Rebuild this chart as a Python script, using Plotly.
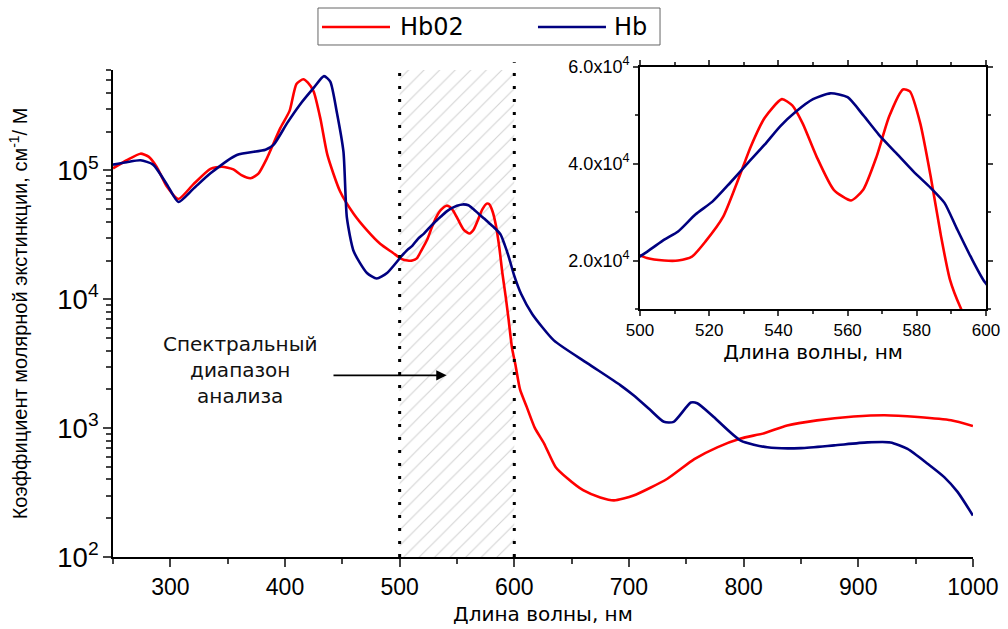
import plotly.graph_objects as go

# ---------------- data ----------------
hbo2_wl = [250, 262, 274, 281, 288, 297, 307, 320, 335, 345, 355, 362, 370, 377, 384, 396, 404, 410,
           416, 420, 425, 431, 437, 448, 460, 472, 483, 494, 502, 507, 511, 515, 519, 524, 528, 532,
           536, 541, 544, 547, 551, 556, 561, 564.5, 568.4, 572, 576, 578, 581, 584, 587, 589.6,
           592.5, 595, 598, 601, 605, 611, 618, 626, 636, 646, 660, 675, 687, 704, 733.5, 757, 777,
           797.5, 818, 838, 864, 896, 923, 952, 981, 1000]
hbo2_val = [1.04e5, 1.2e5, 1.35e5, 1.28e5, 1.07e5, 7.5e4, 6.0e4, 7.8e4, 1.03e5, 1.07e5, 1.02e5, 9.2e4,
            8.7e4, 9.5e4, 1.23e5, 2.14e5, 2.9e5, 4.7e5, 5.1e5, 4.8e5, 4.1e5, 2.5e5, 1.32e5, 6.9e4,
            4.6e4, 3.4e4, 2.7e4, 2.3e4, 2.05e4, 2.0e4, 2.0e4, 2.08e4, 2.4e4, 2.9e4, 3.6e4, 4.35e4,
            4.94e4, 5.33e4, 5.2e4, 4.83e4, 4.15e4, 3.46e4, 3.24e4, 3.46e4, 4.15e4, 4.97e4, 5.53e4,
            5.49e4, 4.83e4, 3.74e4, 2.5e4, 1.6e4, 1.05e4, 7.0e3, 4.2e3, 3.1e3, 2.0e3, 1.45e3, 1.0e3,
            7.6e2, 5.0e2, 4.1e2, 3.3e2, 2.9e2, 2.75e2, 3.0e2, 4.05e2, 5.75e2, 7.1e2, 8.3e2, 9.15e2,
            1.05e3, 1.15e3, 1.23e3, 1.26e3, 1.22e3, 1.15e3, 1.04e3]

hb_wl = [250, 262, 274, 285, 297, 307, 320, 335, 358, 383, 390, 402, 413, 425, 434, 439.5, 445, 451,
         454, 460, 471.5, 480, 489, 502, 507, 511, 516, 521, 526, 531, 536, 540.5, 545, 550, 555, 560,
         564.5, 569, 574, 579, 584, 588, 591.5, 595.5, 599.7, 606, 615.6, 634.5, 663.6, 692.7, 704,
         718, 730.5, 739, 754, 759.6, 774, 797.5, 820.7, 850, 879, 908, 928, 943, 960.5, 975, 986.6,
         1000]
hb_val = [1.11e5, 1.16e5, 1.2e5, 1.11e5, 7.8e4, 5.7e4, 7.2e4, 9.5e4, 1.32e5, 1.45e5, 1.58e5, 2.34e5,
          3.24e5, 4.37e5, 5.4e5, 4.9e5, 2.9e5, 1.4e5, 4.3e4, 2.35e4, 1.6e4, 1.45e4, 1.6e4, 2.18e4,
          2.43e4, 2.6e4, 2.95e4, 3.22e4, 3.6e4, 4.0e4, 4.39e4, 4.77e4, 5.07e4, 5.33e4, 5.45e4,
          5.37e4, 5.0e4, 4.6e4, 4.22e4, 3.84e4, 3.5e4, 3.19e4, 2.67e4, 2.09e4, 1.55e4, 1.1e4, 7.7e3,
          4.8e3, 3.2e3, 2.15e3, 1.8e3, 1.4e3, 1.12e3, 1.12e3, 1.58e3, 1.56e3, 1.22e3, 8.0e2, 7.1e2,
          7.0e2, 7.35e2, 7.75e2, 7.75e2, 6.9e2, 5.3e2, 4.17e2, 3.2e2, 2.1e2]

series_names = ["Hb02", "Hb"]
series_colors = ["#ff0000", "#000080"]
spectral_range = [500, 600]
arrow_from_to = [441, 541]
main_x_ticks = [300, 400, 500, 600, 700, 800, 900, 1000]
inset_y_ticks = [2e4, 4e4, 6e4]
inset_y_ticktext = ["2.0x10<sup>4</sup>", "4.0x10<sup>4</sup>", "6.0x10<sup>4</sup>"]
inset_x_ticks = [500, 520, 540, 560, 580, 600]

Y_LOG_MIN, Y_LOG_MAX = 2, 5.78

fig = go.Figure()

# hatched spectral range
y_top = 10 ** Y_LOG_MAX
fig.add_trace(go.Scatter(
    x=[spectral_range[0], spectral_range[1], spectral_range[1], spectral_range[0], spectral_range[0]],
    y=[10 ** Y_LOG_MIN, 10 ** Y_LOG_MIN, y_top, y_top, 10 ** Y_LOG_MIN],
    mode="lines", line=dict(width=0), fill="toself", fillcolor="rgba(0,0,0,0)",
    fillpattern=dict(shape="/", fgcolor="#a8a8a8", bgcolor="rgba(0,0,0,0)", size=11, solidity=0.1),
    showlegend=False, hoverinfo="skip"))

for wl, val, name, col in [(hbo2_wl, hbo2_val, series_names[0], series_colors[0]),
                           (hb_wl, hb_val, series_names[1], series_colors[1])]:
    fig.add_trace(go.Scatter(x=wl, y=val, mode="lines", name=name, showlegend=False,
                             line=dict(color=col, width=2.6, shape="spline", smoothing=0.6)))
# inset
for wl, val, col in [(hbo2_wl, hbo2_val, series_colors[0]), (hb_wl, hb_val, series_colors[1])]:
    fig.add_trace(go.Scatter(x=wl, y=val, mode="lines", xaxis="x2", yaxis="y2", showlegend=False,
                             line=dict(color=col, width=2.6, shape="spline", smoothing=0.6)))

# dotted boundaries
for xv, ytop in zip(spectral_range, [1.0, 1.016]):
    fig.add_shape(type="line", xref="x", yref="y domain", x0=xv, x1=xv, y0=0, y1=ytop,
                  line=dict(color="black", width=3, dash="3px,10px"))

# annotation text + arrow
fig.add_annotation(x=0.145, y=0.381, xref="paper", yref="paper", xanchor="center", yanchor="middle",
                   text="Спектральный<br>диапазон<br>анализа", showarrow=False,
                   font=dict(family="DejaVu Sans", size=20, color="#111"), align="center")
fig.add_annotation(x=arrow_from_to[1], y=3.41, ax=arrow_from_to[0], ay=3.41,
                   xref="x", yref="y", axref="x", ayref="y",
                   text="", showarrow=True, arrowhead=2, arrowsize=1.3, arrowwidth=1.6,
                   arrowcolor="black", standoff=0, startstandoff=0)

# legend box (drawn in paper coordinates)
fig.add_shape(type="rect", xref="paper", yref="paper", x0=0.2348, x1=0.6266, y0=1.0428, y1=1.1181,
              line=dict(color="#666", width=1), fillcolor="white")
leg_line_x = [(0.2394, 0.3173), (0.4868, 0.5647)]
leg_text_x = [0.3265, 0.5716]
for (lx0, lx1), tx, name, col in zip(leg_line_x, leg_text_x, series_names, series_colors):
    fig.add_shape(type="line", xref="paper", yref="paper", x0=lx0, x1=lx1, y0=1.0794, y1=1.0794,
                  line=dict(color=col, width=2.5))
    fig.add_annotation(x=tx, y=1.0794, xref="paper", yref="paper", xanchor="left", yanchor="middle",
                       text=name, showarrow=False,
                       font=dict(family="DejaVu Sans", size=24, color="black"))

narrow = "Liberation Sans Narrow, Arial Narrow, Liberation Sans, sans-serif"

fig.update_layout(
    width=1008, height=629,
    margin=dict(l=113, r=22, t=66, b=72),
    paper_bgcolor="white", plot_bgcolor="white",
    showlegend=False,
    xaxis=dict(domain=[0, 0.985], range=[250, 1000], tickvals=main_x_ticks, automargin=False,
               ticks="outside", ticklen=8, tickwidth=2, showline=True, linewidth=2, linecolor="black",
               showgrid=False, zeroline=False,
               minor=dict(ticks="outside", ticklen=5, tickwidth=2, dtick=50, tick0=250, showgrid=False),
               tickfont=dict(family=narrow, size=23, color="black"),
               title=dict(text="Длина волны, нм", font=dict(family="DejaVu Sans", size=20, color="black"),
                          standoff=8)),
    yaxis=dict(domain=[0, 0.9919], type="log", range=[Y_LOG_MIN, Y_LOG_MAX], dtick=1, automargin=False,
               exponentformat="power", ticks="outside", ticklen=8, tickwidth=2,
               showline=True, linewidth=2, linecolor="black", showgrid=False, zeroline=False,
               minor=dict(ticks="outside", ticklen=5, tickwidth=1.5, dtick="D1", showgrid=False),
               tickfont=dict(family=narrow, size=22, color="black"),
               title=dict(text="Коэффициент молярной экстинкции, см<sup>-1</sup>/ М",
                          font=dict(family=narrow, size=20, color="black"), standoff=24)),
    xaxis2=dict(domain=[0.6037, 1.0], anchor="y2", range=[500, 600], tickvals=inset_x_ticks,
                automargin=False,
                ticks="outside", ticklen=5, tickwidth=1.5, showline=True, linewidth=2, linecolor="black",
                mirror="allticks", showgrid=False, zeroline=False,
                minor=dict(ticks="outside", ticklen=3, tickwidth=1.5, dtick=10, tick0=500, showgrid=False),
                tickfont=dict(family="Liberation Sans, Arial", size=17, color="black"),
                title=dict(text="Длина волны, нм", font=dict(family="DejaVu Sans", size=20, color="black"),
                           standoff=6)),
    yaxis2=dict(domain=[0.5051, 0.9986], anchor="x2", range=[1e4, 6e4], tickvals=inset_y_ticks,
                automargin=False,
                ticktext=inset_y_ticktext, ticks="outside", ticklen=5, tickwidth=1.5,
                showline=True, linewidth=2, linecolor="black", mirror="allticks",
                showgrid=False, zeroline=False,
                minor=dict(ticks="outside", ticklen=3, tickwidth=1.5, dtick=1e4, tick0=0, showgrid=False),
                tickfont=dict(family="Liberation Sans, Arial", size=18, color="black")),
)

fig.write_html("out.html")
